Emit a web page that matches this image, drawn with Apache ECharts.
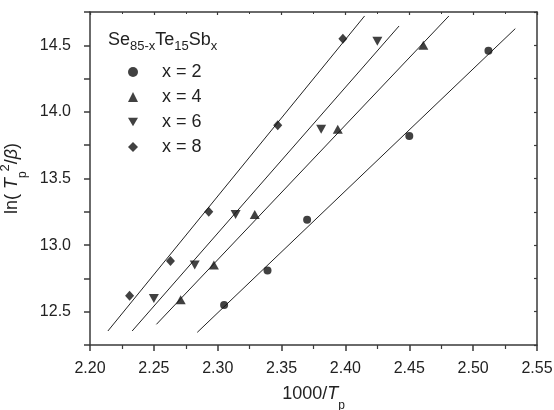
<!DOCTYPE html>
<html>
<head>
<meta charset="utf-8">
<script src="https://cdn.jsdelivr.net/npm/echarts@6/dist/echarts.min.js"></script>
<style>
  html, body { margin: 0; padding: 0; background: #fff; }
  #chart { width: 554px; height: 410px; }
</style>
</head>
<body>
<div id="chart"></div>
<script>
// Kissinger plot data: [1000/Tp, ln(Tp^2/beta)] for Se(85-x)Te15Sb(x)
const seriesNames = ['x = 2', 'x = 4', 'x = 6', 'x = 8'];
const pointsX2 = [[2.305, 12.55], [2.339, 12.81], [2.370, 13.19], [2.450, 13.82], [2.512, 14.46]];
const pointsX4 = [[2.271, 12.59], [2.297, 12.85], [2.329, 13.23], [2.394, 13.87], [2.461, 14.50]];
const pointsX6 = [[2.250, 12.60], [2.282, 12.85], [2.314, 13.23], [2.381, 13.87], [2.425, 14.53]];
const pointsX8 = [[2.231, 12.62], [2.263, 12.88], [2.293, 13.25], [2.347, 13.90], [2.398, 14.55]];

// Linear fit segments (start, end) for each composition
const fitX2 = [[2.284, 12.345], [2.533, 14.625]];
const fitX4 = [[2.252, 12.405], [2.481, 14.72]];
const fitX6 = [[2.233, 12.355], [2.442, 14.645]];
const fitX8 = [[2.214, 12.355], [2.415, 14.72]];

const xTicks = { min: 2.20, max: 2.55, interval: 0.05 };
const yTicks = { min: 12.25, max: 14.75, interval: 0.25 };

const FONT = 'Liberation Sans, Arial, sans-serif';
const AXIS_COLOR = '#3a3a3a';
const INK = '#111';

const invTriangle = 'path://M0,0 L10,0 L5,8.66 Z';
const symbols = ['circle', 'triangle', invTriangle, 'diamond'];
const symbolSizes = [8, [10, 9], [10, 9], [9, 10]];
const pointSets = [pointsX2, pointsX4, pointsX6, pointsX8];
const fitSets = [fitX2, fitX4, fitX6, fitX8];

const chart = echarts.init(document.getElementById('chart'), null, { renderer: 'canvas' });

const baseAxis = {
  axisLine: { show: true, onZero: false, lineStyle: { color: AXIS_COLOR, width: 1.5 } },
  splitLine: { show: false }
};

const series = [];
pointSets.forEach((pts, i) => {
  series.push({
    name: seriesNames[i],
    type: 'scatter',
    data: pts,
    symbol: symbols[i],
    symbolSize: symbolSizes[i],
    itemStyle: { color: INK },
    z: 3
  });
});
fitSets.forEach((seg) => {
  series.push({
    type: 'line',
    data: seg,
    symbol: 'none',
    lineStyle: { color: '#222', width: 1 },
    silent: true,
    z: 2
  });
});

chart.setOption({
  animation: false,
  backgroundColor: '#fff',
  textStyle: { fontFamily: FONT },
  grid: { left: 90, right: 17, top: 12, bottom: 65, containLabel: false, outerBoundsMode: 'none' },
  title: {
    text: '{n|Se}{s|85-x}{n|Te}{s|15}{n|Sb}{s|x}',
    left: 103,
    top: 22,
    textStyle: {
      fontWeight: 'normal',
      rich: {
        n: { fontFamily: FONT, fontSize: 18, fontWeight: 'normal', color: '#222', lineHeight: 26, verticalAlign: 'middle' },
        s: { fontFamily: FONT, fontSize: 13, fontWeight: 'normal', color: '#222', lineHeight: 26, verticalAlign: 'bottom' }
      }
    }
  },
  legend: {
    orient: 'vertical',
    left: 123,
    top: 58,
    itemWidth: 10,
    itemHeight: 10,
    itemGap: 7,
    data: seriesNames,
    textStyle: { fontFamily: FONT, fontSize: 18, color: '#222', padding: [0, 0, 0, 19] }
  },
  xAxis: [{
    ...baseAxis,
    type: 'value',
    min: xTicks.min, max: xTicks.max, interval: xTicks.interval,
    position: 'bottom',
    name: '1000/{i|T}{sub|p}',
    nameLocation: 'middle',
    nameGap: 37,
    nameTextStyle: {
      fontFamily: FONT, fontSize: 18, color: '#222',
      rich: {
        i: { fontFamily: FONT, fontSize: 18, fontStyle: 'italic', color: '#222', lineHeight: 24, verticalAlign: 'middle' },
        sub: { fontFamily: FONT, fontSize: 12, color: '#222', lineHeight: 24, verticalAlign: 'bottom', padding: [0, 0, -6, 0] }
      }
    },
    axisTick: { show: true, inside: false, length: 6, lineStyle: { color: AXIS_COLOR, width: 1.5 } },
    minorTick: { show: true, splitNumber: 2, length: 4, lineStyle: { color: AXIS_COLOR, width: 1.2 } },
    axisLabel: { margin: 16, fontSize: 16, color: '#222', fontFamily: FONT, formatter: v => v.toFixed(2) }
  }, {
    ...baseAxis,
    type: 'value',
    min: xTicks.min, max: xTicks.max, interval: xTicks.interval,
    position: 'top',
    axisTick: { show: true, inside: true, length: 3, lineStyle: { color: AXIS_COLOR, width: 1.2 } },
    minorTick: { show: true, splitNumber: 2, length: 2, lineStyle: { color: AXIS_COLOR, width: 1 } },
    axisLabel: { show: false }
  }],
  yAxis: [{
    ...baseAxis,
    type: 'value',
    min: yTicks.min, max: yTicks.max, interval: yTicks.interval,
    position: 'left',
    name: 'ln( {i|T}{sub|p}{sup|2}/{i|β})',
    nameLocation: 'middle',
    nameGap: 54,
    nameTextStyle: {
      fontFamily: FONT, fontSize: 18, color: '#222',
      rich: {
        i: { fontFamily: FONT, fontSize: 18, fontStyle: 'italic', color: '#222', lineHeight: 26, verticalAlign: 'middle' },
        sub: { fontFamily: FONT, fontSize: 12, color: '#222', lineHeight: 26, verticalAlign: 'bottom', padding: [0, 0, -4, 0] },
        sup: { fontFamily: FONT, fontSize: 13, color: '#222', lineHeight: 26, verticalAlign: 'top' }
      }
    },
    axisTick: { show: true, inside: false, length: 6, lineStyle: { color: AXIS_COLOR, width: 1.5 } },
    axisLabel: {
      margin: 19, fontSize: 16, color: '#222', fontFamily: FONT,
      formatter: v => (Math.abs(v * 2 - Math.round(v * 2)) < 1e-6 ? v.toFixed(1) : '')
    }
  }, {
    ...baseAxis,
    type: 'value',
    min: yTicks.min, max: yTicks.max, interval: yTicks.interval,
    position: 'right',
    axisTick: { show: true, inside: true, length: 3, lineStyle: { color: AXIS_COLOR, width: 1.2 } },
    axisLabel: { show: false }
  }],
  series: series
});
</script>
</body>
</html>
